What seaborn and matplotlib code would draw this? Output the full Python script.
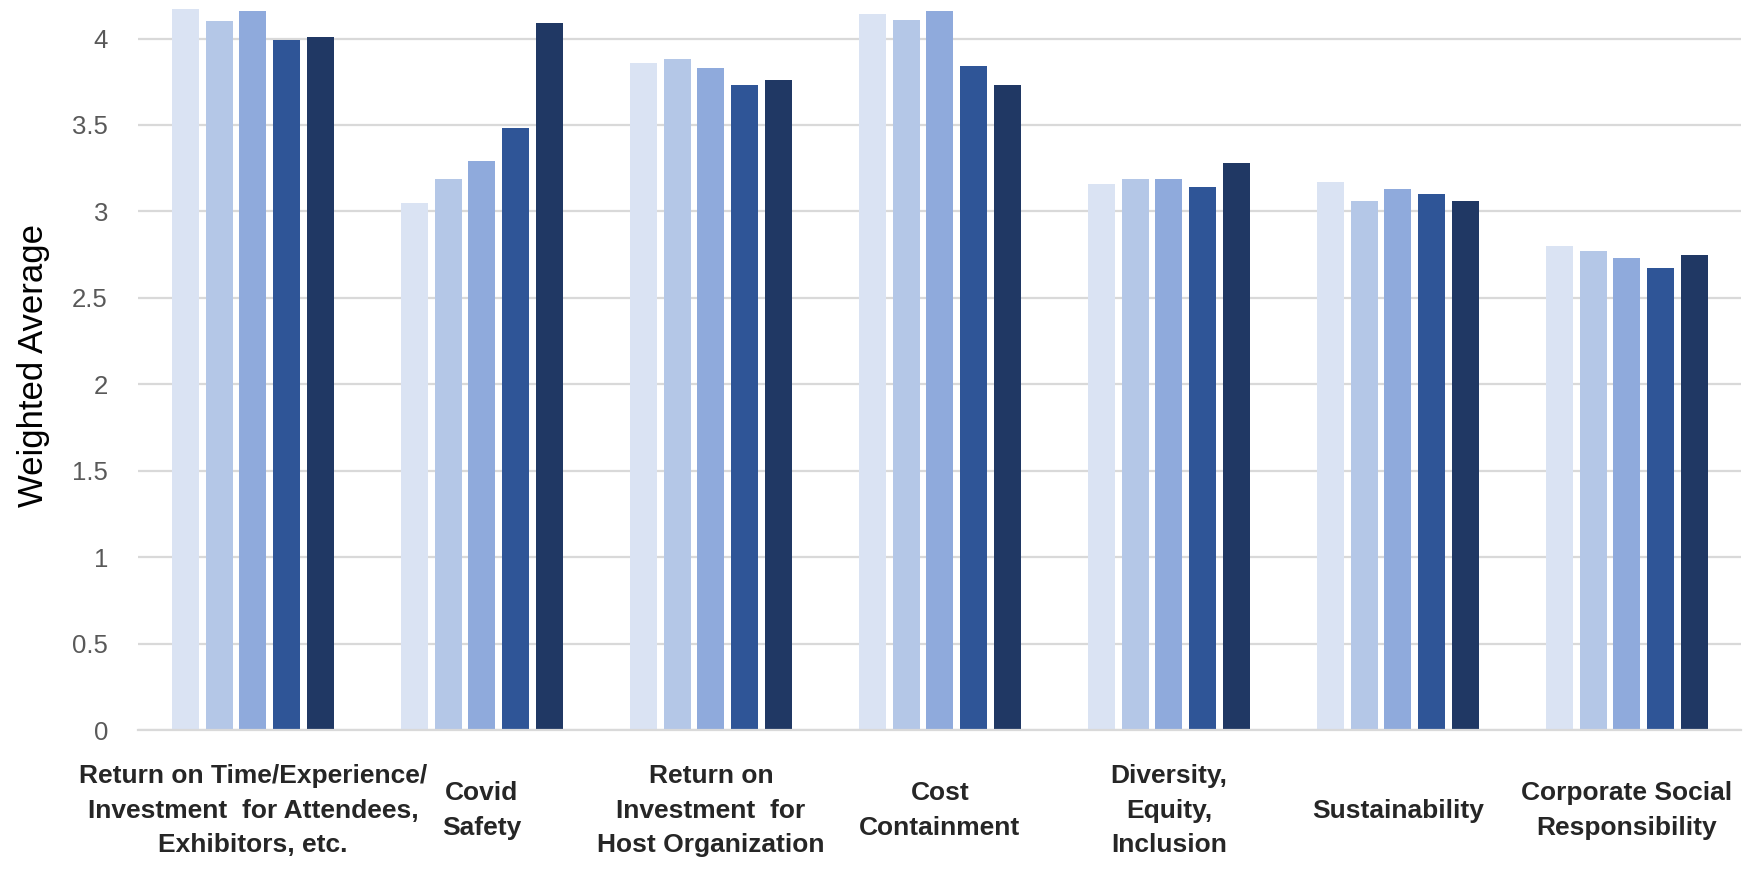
import matplotlib
matplotlib.use("Agg")
import matplotlib.pyplot as plt
import pandas as pd
import seaborn as sns

categories = [
    "Return on Time/Experience/\nInvestment  for Attendees,\nExhibitors, etc.",
    "Covid\nSafety",
    "Return on\nInvestment  for\nHost Organization",
    "Cost\nContainment",
    "Diversity,\nEquity,\nInclusion",
    "Sustainability",
    "Corporate Social\nResponsibility",
]
series_names = ["Series 1", "Series 2", "Series 3", "Series 4", "Series 5"]
series_1 = [4.17, 3.05, 3.86, 4.14, 3.16, 3.17, 2.80]
series_2 = [4.10, 3.19, 3.88, 4.11, 3.19, 3.06, 2.77]
series_3 = [4.16, 3.29, 3.83, 4.16, 3.19, 3.13, 2.73]
series_4 = [3.99, 3.48, 3.73, 3.84, 3.14, 3.10, 2.67]
series_5 = [4.01, 4.09, 3.76, 3.73, 3.28, 3.06, 2.75]
colors = ["#DAE3F3", "#B4C7E7", "#8FAADC", "#2F5597", "#203864"]

rows = []
for name, vals in zip(series_names, [series_1, series_2, series_3, series_4, series_5]):
    for cat, v in zip(categories, vals):
        rows.append({"category": cat, "series": name, "value": v})
df = pd.DataFrame(rows)

sns.set_style("white")
plt.rcParams["font.family"] = ["Liberation Sans", "DejaVu Sans"]

fig = plt.figure(figsize=(17.55, 8.72), dpi=100)
ax = fig.add_axes([0.0789, 0.1628, 0.9133, 0.8372])

sns.barplot(
    data=df, x="category", y="value", hue="series", order=categories,
    hue_order=series_names, palette=colors, width=0.735, gap=0.2,
    saturation=1, legend=False, ax=ax, linewidth=0,
)

ax.set_ylim(0, 4.223)
ax.set_xlim(-0.5, len(categories) - 0.5)
ax.set_yticks([0, 0.5, 1, 1.5, 2, 2.5, 3, 3.5, 4])
ax.set_yticklabels(["0", "0.5", "1", "1.5", "2", "2.5", "3", "3.5", "4"])
ax.yaxis.grid(True, color="#D9D9D9", linewidth=1.6)
ax.set_axisbelow(True)
for side in ["top", "right", "left"]:
    ax.spines[side].set_visible(False)
ax.spines["bottom"].set_color("#D9D9D9")
ax.spines["bottom"].set_linewidth(1.6)

ax.tick_params(axis="y", length=0, pad=22, labelsize=18.5, labelcolor="#595959")
ax.tick_params(axis="x", length=0, pad=58, labelsize=19)
for lbl in ax.get_xticklabels():
    lbl.set_fontweight("bold")
    lbl.set_verticalalignment("center")
    lbl.set_linespacing(1.55)

ax.set_xlabel("")
ax.set_ylabel("Weighted Average", fontsize=25, color="black", labelpad=16)

fig.savefig("out.png", dpi=100)
